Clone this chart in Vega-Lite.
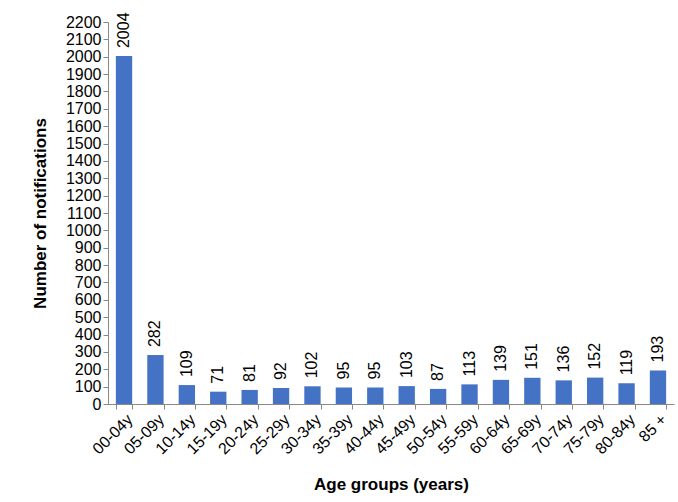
{
  "$schema": "https://vega.github.io/schema/vega-lite/v6.json",
  "width": 566,
  "height": 382,
  "autosize": {"type": "none"},
  "padding": {"left": 108, "top": 22, "right": 4, "bottom": 98},
  "background": "white",
  "config": {"view": {"stroke": null}, "font": "Liberation Sans"},
  "data": {
    "values": [
      {"age": "00-04y", "n": 2004}, {"age": "05-09y", "n": 282}, {"age": "10-14y", "n": 109},
      {"age": "15-19y", "n": 71}, {"age": "20-24y", "n": 81}, {"age": "25-29y", "n": 92},
      {"age": "30-34y", "n": 102}, {"age": "35-39y", "n": 95}, {"age": "40-44y", "n": 95},
      {"age": "45-49y", "n": 103}, {"age": "50-54y", "n": 87}, {"age": "55-59y", "n": 113},
      {"age": "60-64y", "n": 139}, {"age": "65-69y", "n": 151}, {"age": "70-74y", "n": 136},
      {"age": "75-79y", "n": 152}, {"age": "80-84y", "n": 119}, {"age": "85 +", "n": 193}
    ]
  },
  "encoding": {
    "x": {
      "field": "age", "type": "nominal", "sort": null,
      "scale": {"paddingInner": 0.48, "paddingOuter": 0.25},
      "axis": {"title": "Age groups (years)", "titleFontSize": 17, "titleFontWeight": "bold",
        "titleColor": "black", "titlePadding": 20, "labelAngle": -45, "labelFontSize": 16,
        "labelColor": "black", "domainColor": "#888", "tickColor": "#888", "tickBand": "extent"}
    },
    "y": {
      "field": "n", "type": "quantitative",
      "scale": {"domain": [0, 2200]},
      "axis": {"title": "Number of notifications", "titleFontSize": 17, "titleFontWeight": "bold",
        "titleColor": "black", "values": [0,100,200,300,400,500,600,700,800,900,1000,1100,1200,1300,1400,1500,1600,1700,1800,1900,2000,2100,2200],
        "format": "d", "labelOverlap": false, "labelFontSize": 16, "labelColor": "black", "grid": false,
        "domainColor": "#888", "tickColor": "#888", "titlePadding": 16}
    }
  },
  "layer": [
    {"mark": {"type": "bar", "color": "#4472C4"}},
    {"mark": {"type": "text", "angle": -90, "align": "left", "baseline": "middle", "dx": 8, "fontSize": 16, "color": "black"},
     "encoding": {"text": {"field": "n", "type": "quantitative"}}}
  ]
}
